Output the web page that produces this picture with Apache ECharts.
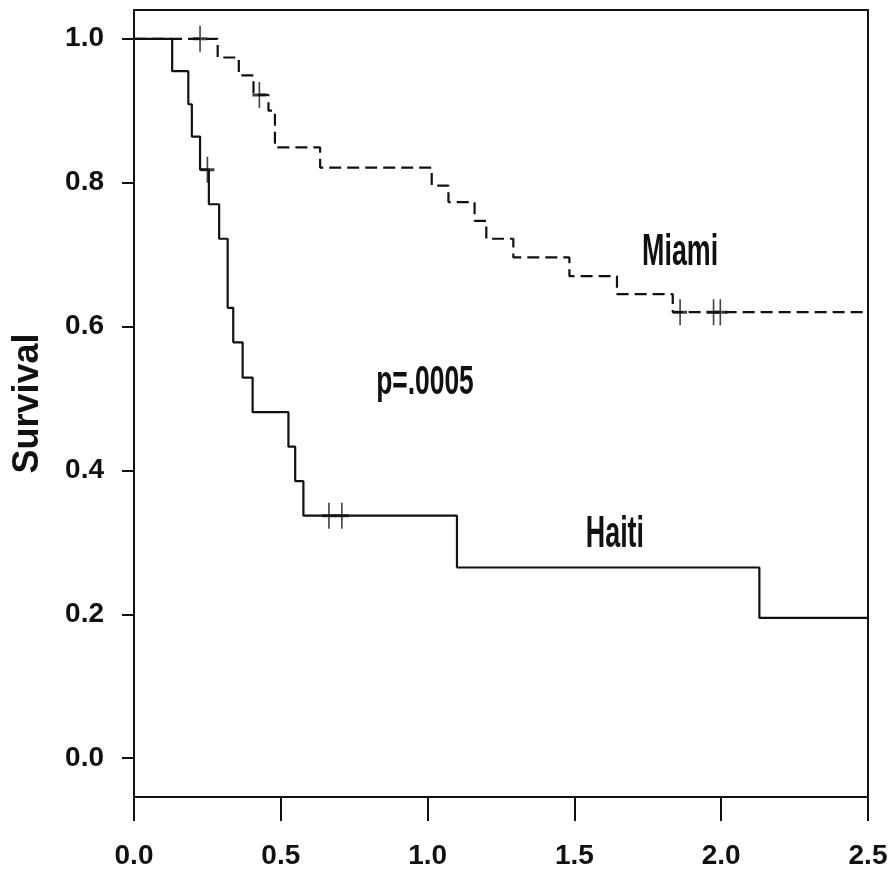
<!DOCTYPE html>
<html>
<head>
<meta charset="utf-8">
<script src="https://cdn.jsdelivr.net/npm/echarts@6/dist/echarts.min.js"></script>
<style>
  html, body { margin: 0; padding: 0; background: #fff; }
  #main { width: 890px; height: 872px; }
</style>
</head>
<body>
<div id="main"></div>
<script>
// Kaplan-Meier curves, time in years
const haitiTime = [0, 0.13, 0.185, 0.197, 0.225, 0.255, 0.29, 0.319, 0.338, 0.370, 0.404, 0.526, 0.549, 0.577, 1.10, 2.13, 2.5];
const haitiSurv = [1, 0.955, 0.909, 0.864, 0.818, 0.77, 0.722, 0.626, 0.578, 0.529, 0.481, 0.433, 0.385, 0.337, 0.265, 0.195, 0.195];
const haitiCensorTime = [0.25, 0.664, 0.708];
const haitiCensorSurv = [0.818, 0.337, 0.337];

const miamiTime = [0, 0.285, 0.357, 0.407, 0.458, 0.48, 0.634, 1.014, 1.071, 1.16, 1.20, 1.292, 1.483, 1.645, 1.835, 2.5];
const miamiSurv = [1, 0.974, 0.949, 0.922, 0.9, 0.849, 0.821, 0.796, 0.773, 0.747, 0.722, 0.696, 0.670, 0.645, 0.620, 0.620];
const miamiCensorTime = [0.225, 0.427, 1.86, 1.974, 1.997];
const miamiCensorSurv = [1, 0.922, 0.62, 0.62, 0.62];

const yTicks = [0, 0.2, 0.4, 0.6, 0.8, 1.0];

// text notes placed in data coordinates
const noteText = ['Miami', 'Haiti', 'p=.0005'];
const noteAt = [[1.86, 0.703], [1.638, 0.311], [0.991, 0.5215]];

const zip = (a, b) => a.map((v, i) => [v, b[i]]);

const ink = '#111';
const sans = "'Liberation Sans', Arial, sans-serif";
const plus = 'path://M5,0L5,10M0,5L10,5';

let chart = echarts.init(document.getElementById('main'));

let option = {
    animation: false,
    backgroundColor: '#fff',
    grid: {
        left: 134, right: 22, top: 10, bottom: 75,
        show: true, borderColor: ink, borderWidth: 2,
        outerBoundsMode: 'none'
    },
    xAxis: {
        type: 'value',
        min: 0, max: 2.5, interval: 0.5,
        axisLine: { show: true, onZero: false, lineStyle: { color: ink, width: 2 } },
        axisTick: { show: true, length: 24, lineStyle: { color: ink, width: 2 } },
        axisLabel: {
            color: ink, fontSize: 28, fontWeight: 'bold', fontFamily: sans, margin: 45,
            formatter: v => v.toFixed(1)
        },
        splitLine: { show: false }
    },
    yAxis: {
        type: 'value',
        min: -0.054, max: 1.04,
        name: 'Survival',
        nameLocation: 'middle',
        nameGap: 88,
        nameRotate: 90,
        nameTextStyle: { color: ink, fontSize: 36, fontWeight: 'bold', fontFamily: sans },
        axisLine: { show: true, onZero: false, lineStyle: { color: ink, width: 2 } },
        axisTick: { show: true, length: 12, customValues: yTicks, lineStyle: { color: ink, width: 2 } },
        axisLabel: {
            color: ink, fontSize: 28, fontWeight: 'bold', fontFamily: sans, margin: 30,
            customValues: yTicks,
            formatter: v => v.toFixed(1)
        },
        splitLine: { show: false }
    },
    series: [
        {
            name: 'Haiti', type: 'line', step: 'end',
            data: zip(haitiTime, haitiSurv),
            symbol: 'none',
            lineStyle: { color: ink, width: 2.2 }
        },
        {
            name: 'Miami', type: 'line', step: 'end',
            data: zip(miamiTime, miamiSurv),
            symbol: 'none',
            lineStyle: { color: ink, width: 2.2, type: [12, 6] }
        },
        {
            name: 'Haiti censored', type: 'scatter',
            data: zip(haitiCensorTime, haitiCensorSurv),
            symbol: plus, symbolSize: [14, 26],
            itemStyle: { color: 'none', borderColor: ink, borderWidth: 2.2 }
        },
        {
            name: 'Miami censored', type: 'scatter',
            data: zip(miamiCensorTime, miamiCensorSurv),
            symbol: plus, symbolSize: [14, 26],
            itemStyle: { color: 'none', borderColor: ink, borderWidth: 2.2 }
        }
    ]
};

chart.setOption(option);

// condensed bold notes: scale the text horizontally like the scanned figure
chart.setOption({
    graphic: noteText.map((t, i) => {
        const p = chart.convertToPixel({ gridIndex: 0 }, noteAt[i]);
        return {
            type: 'text',
            x: p[0], y: p[1],
            scaleX: i === 2 ? 0.66 : 0.61,
            style: {
                text: t,
                fill: ink,
                font: "bold " + (i === 2 ? 40 : 44) + "px 'Liberation Sans', sans-serif",
                align: 'center',
                verticalAlign: 'middle'
            }
        };
    })
});
</script>
</body>
</html>
